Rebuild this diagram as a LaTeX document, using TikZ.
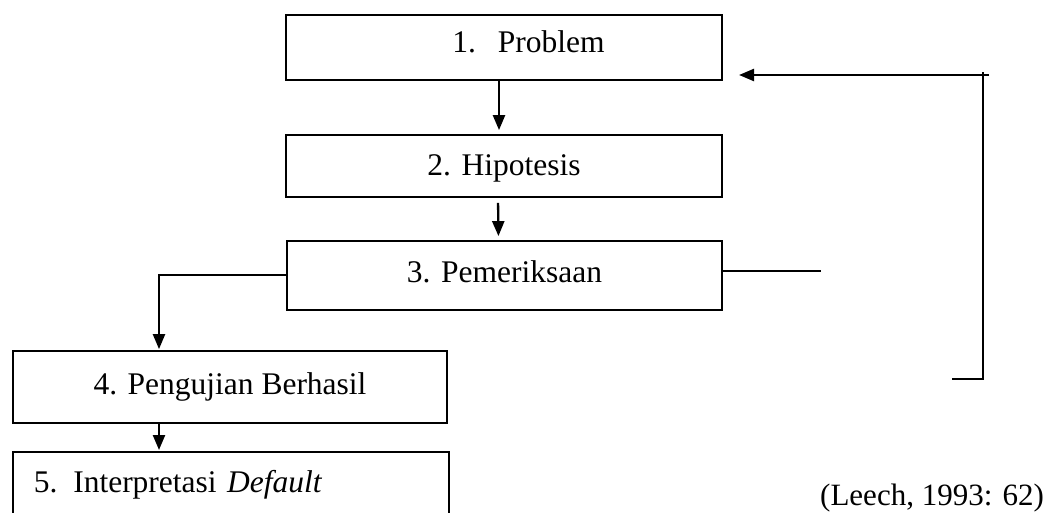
\documentclass[tikz,border=0pt]{standalone}
\usepackage{fontspec}
\setmainfont{Liberation Serif}
\usetikzlibrary{arrows.meta}
\begin{document}
\begin{tikzpicture}[x=1pt,y=-1pt,
  boxstyle/.style={draw, line width=1.8pt, rectangle, inner sep=0pt,
    font=\fontsize{31.5}{38}\selectfont, text height=20.8pt},
  arr/.style={line width=2.3pt, -{Triangle[length=15pt,width=12pt]}},
  plain/.style={line width=1.8pt}]
\useasboundingbox (0,0) rectangle (1046,513);
\node[boxstyle, minimum width=436pt, minimum height=65pt, text depth=10pt] (box1) at (504,47.5) {\hspace*{49pt}1.\hspace{22pt}Problem};
\node[boxstyle, minimum width=436pt, minimum height=62pt, text depth=2pt] (box2) at (504,166) {2. Hipotesis};
\node[boxstyle, minimum width=435pt, minimum height=69pt, text depth=7pt] (box3) at (504.5,275.5) {3. Pemeriksaan};
\node[boxstyle, minimum width=434pt, minimum height=72pt, text depth=6pt] (box4) at (230,387) {4. Pengujian Berhasil};
\node[boxstyle, draw=none, anchor=north west, minimum width=434pt, minimum height=61pt, text depth=2pt,
  text width=394pt, align=left, inner xsep=20pt] (box5) at (13,452) {5. Interpretasi \textit{Default}};
\draw[plain] (box5.south west) -- (box5.north west) -- (box5.north east) -- (box5.south east);
\node[font=\fontsize{31}{38}\selectfont, anchor=base west, inner sep=0pt] (cite) at (820,505) {(Leech, 1993: 62)};
% main flow
\draw[arr, shorten >=4pt] ([xshift=-5pt]box1.south) -- ([xshift=-5pt]box2.north);
\draw[arr, shorten <=5pt, shorten >=4pt] ([xshift=-6pt]box2.south) -- ([xshift=-6pt]box3.north);
\coordinate (split) at (159,275);
\draw[arr, shorten >=1pt] (box3.west |- split) -- (split) -- (split |- box4.north);
\draw[arr, shorten >=2pt] (split |- box4.south) -- (split |- box5.north);
% feedback loop
\coordinate (rightend) at (821,271);
\draw[plain] (box3.east |- rightend) -- (rightend);
\coordinate (fbbotL) at (952,379);
\coordinate (fbbotR) at (983,379);
\coordinate (fbtopV) at (983,72);
\coordinate (fbtopR) at (989,75);
\coordinate (fbtip) at (739,75);
\draw[plain] (fbbotL) -- (fbbotR) -- (fbtopV);
\draw[arr] (fbtopR) -- (fbtip);
\end{tikzpicture}
\end{document}
